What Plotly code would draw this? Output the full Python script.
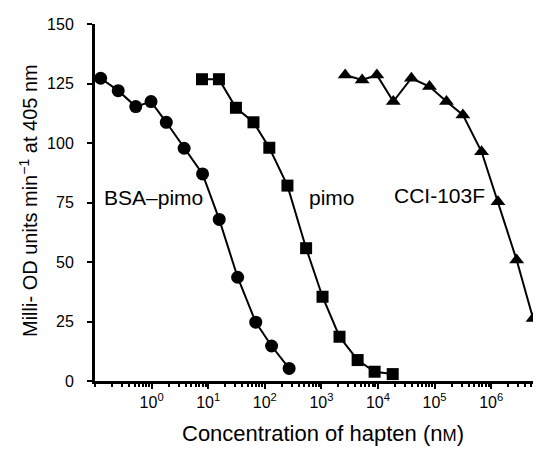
import plotly.graph_objects as go

# Data (log10 of concentration in nM, and response)
bsa_logx = [-0.90, -0.59, -0.28, -0.01, 0.26, 0.575, 0.90, 1.195, 1.52, 1.84, 2.12, 2.43]
bsa_y = [127.2, 122.0, 115.3, 117.4, 108.7, 97.8, 87.0, 67.9, 43.6, 24.7, 14.7, 5.3]

pimo_logx = [0.89, 1.19, 1.49, 1.80, 2.08, 2.40, 2.73, 3.02, 3.32, 3.64, 3.94, 4.26]
pimo_y = [126.8, 126.8, 114.8, 108.7, 98.0, 82.1, 55.8, 35.4, 18.6, 8.8, 3.9, 2.9]

cci_logx = [3.42, 3.72, 3.98, 4.27, 4.59, 4.91, 5.21, 5.50, 5.83, 6.12, 6.45, 6.74]
cci_y = [128.6, 126.5, 128.6, 117.4, 127.2, 123.7, 117.4, 111.8, 96.3, 75.3, 50.8, 26.3]

tick_exps = [0, 1, 2, 3, 4, 5, 6]
y_ticks = [0, 25, 50, 75, 100, 125, 150]

series_labels = ["BSA–pimo", "pimo", "CCI-103F"]
label_logx = [0.03, 3.18, 5.08]
label_y = [77.3, 77.3, 78]

font_family = "Liberation Sans, Arial, Helvetica, sans-serif"

# page body has an 8px margin; compensate so the plot lands where the reference has it
OFF = 8
W, H = 541 - OFF, 450 - OFF
PL, PT, PR, PB = 95, 24, 541, 381  # plot area in window pixels

fig = go.Figure()
series = [
    (bsa_logx, bsa_y, "circle", 13),
    (pimo_logx, pimo_y, "square", 12),
    (cci_logx, cci_y, "triangle-up", 13),
]
for lx, yv, sym, size in series:
    fig.add_trace(go.Scatter(
        x=[10 ** v for v in lx], y=yv, mode="lines+markers",
        line=dict(color="black", width=2),
        marker=dict(symbol=sym, size=size, color="black"),
        showlegend=False, cliponaxis=False,
    ))

for txt, lx, y in zip(series_labels, label_logx, label_y):
    fig.add_annotation(x=lx, y=y, text=txt, showarrow=False, xref="x", yref="y",
                       font=dict(size=21, color="black", family=font_family))

pw, ph = PR - PL, PB - PT
fig.add_annotation(x=(323 - PL) / pw, y=-(434 - PB) / ph, xref="paper", yref="paper",
                   text="Concentration of hapten (n<span style='font-size:17px'>M</span>)",
                   showarrow=False, font=dict(size=22, color="black", family=font_family),
                   xanchor="center", yanchor="middle")
fig.add_annotation(x=-(PL - 28) / pw, y=(PB - 201) / ph, xref="paper", yref="paper",
                   text="Milli- OD units min<sup>−1</sup> at 405 nm", textangle=-90,
                   showarrow=False, font=dict(size=20, color="black", family=font_family),
                   xanchor="center", yanchor="middle")

fig.update_layout(
    width=W, height=H,
    margin=dict(l=PL - OFF, r=541 - PR, t=PT - OFF, b=450 - PB),
    plot_bgcolor="white", paper_bgcolor="white",
    font=dict(family=font_family, color="black", size=16),
)

fig.update_xaxes(
    type="log", range=[-1, 6.88], automargin=False,
    tickmode="array", tickvals=[10 ** e for e in tick_exps],
    ticktext=[f"10<sup>{e}</sup>" for e in tick_exps],
    ticks="outside", ticklen=5, tickwidth=2, tickcolor="black",
    minor=dict(ticks="outside", ticklen=3, tickwidth=1.5, tickcolor="black", dtick="D1"),
    showline=True, linecolor="black", linewidth=3,
    showgrid=False, zeroline=False,
    tickfont=dict(size=16),
)
fig.update_yaxes(
    range=[0, 150], tickvals=y_ticks, automargin=False,
    ticks="outside", ticklen=5, tickwidth=2, tickcolor="black",
    showline=True, linecolor="black", linewidth=3,
    showgrid=False, zeroline=False,
    tickfont=dict(size=16), ticklabelstandoff=10,
)

fig.write_html("out.html")
